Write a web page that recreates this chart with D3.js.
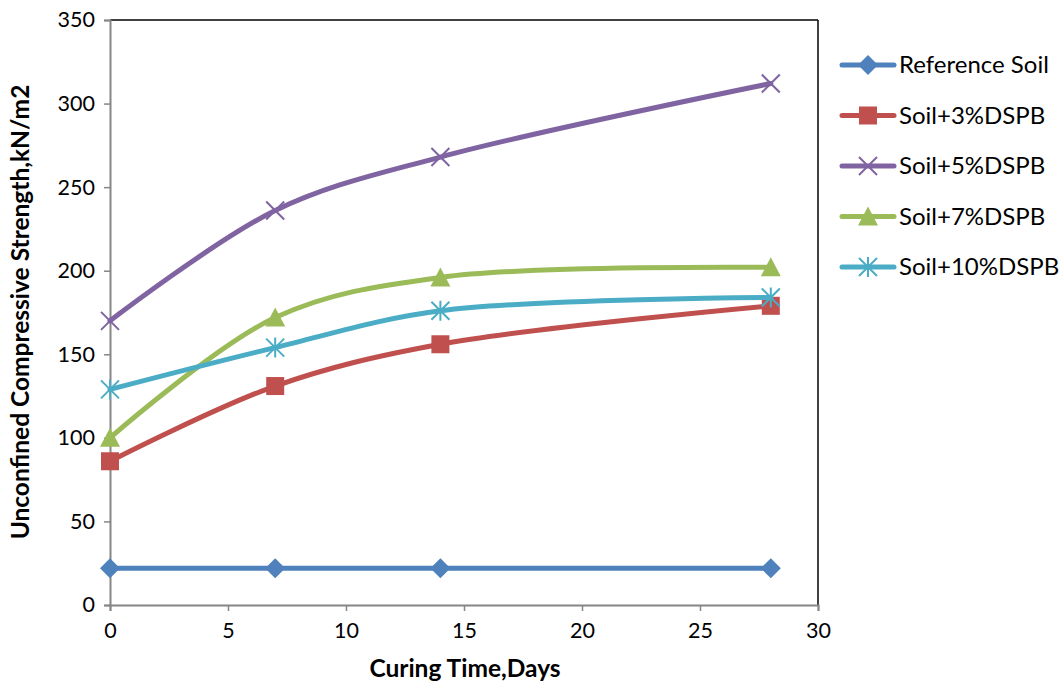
<!DOCTYPE html>
<html><head><meta charset="utf-8">
<script src="https://cdn.jsdelivr.net/npm/d3@7"></script>
<style>body{margin:0;background:#fff;} text{font-family:Lato,"Open Sans",sans-serif;}</style>
</head><body>
<svg id="c" width="1059" height="686"></svg>
<script>
const days = [0, 7, 14, 28];
const seriesNames = ["Reference Soil","Soil+3%DSPB","Soil+5%DSPB","Soil+7%DSPB","Soil+10%DSPB"];
const refSoil = [22, 22, 22, 22];
const soil3 = [86, 131, 156, 179];
const soil5 = [170, 236, 268, 312];
const soil7 = [100, 172, 196, 202];
const soil10 = [129, 154, 176, 184];
const xTicks = [0,5,10,15,20,25,30];
const yTicks = [0,50,100,150,200,250,300,350];
const colors = ["#4F81BD","#C0504D","#8064A2","#9BBB59","#4BACC6"];
const markers = ["diamond","square","cross","triangle","star"];
const allSeries = [refSoil, soil3, soil5, soil7, soil10];

const svg = d3.select("#c");
const L=110,R=818,T=20,B=605;
const x = d3.scaleLinear().domain([0,30]).range([L,R]);
const y = d3.scaleLinear().domain([0,350]).range([B,T]);

svg.append("line").attr("x1",L).attr("x2",R).attr("y1",T).attr("y2",T).attr("stroke","#000").attr("stroke-width",1.5);
svg.append("line").attr("x1",R).attr("x2",R).attr("y1",T).attr("y2",B).attr("stroke","#000").attr("stroke-width",1.5);

const yAxis = svg.append("g").attr("transform",`translate(${L},0)`)
  .call(d3.axisLeft(y).tickValues(yTicks).tickSize(6).tickPadding(9).tickFormat(d3.format("d")));
const xAxis = svg.append("g").attr("transform",`translate(0,${B})`)
  .call(d3.axisBottom(x).tickValues(xTicks).tickSize(6).tickPadding(12).tickFormat(d3.format("d")));
[yAxis,xAxis].forEach(a=>{
  a.select(".domain").attr("stroke","#868686").attr("stroke-width",2);
  a.selectAll(".tick line").attr("stroke","#868686").attr("stroke-width",1.5);
  a.selectAll(".tick text").attr("font-size",21.5).attr("fill","#000").attr("font-family","Lato, 'Open Sans', sans-serif");
});

function drawMarker(g, type, cx, cy, color){
  if(type==="diamond"){
    g.append("path").attr("d",`M${cx},${cy-10}L${cx+10},${cy}L${cx},${cy+10}L${cx-10},${cy}Z`).attr("fill",color);
  } else if(type==="square"){
    g.append("rect").attr("x",cx-9).attr("y",cy-9).attr("width",18).attr("height",18).attr("fill",color);
  } else if(type==="triangle"){
    g.append("path").attr("d",`M${cx},${cy-10}L${cx+10},${cy+9}L${cx-10},${cy+9}Z`).attr("fill",color);
  } else if(type==="cross"){
    g.append("path").attr("d",`M${cx-9},${cy-9}L${cx+9},${cy+9}M${cx-9},${cy+9}L${cx+9},${cy-9}`).attr("stroke",color).attr("stroke-width",2);
  } else if(type==="star"){
    g.append("path").attr("d",`M${cx-9},${cy-9}L${cx+9},${cy+9}M${cx-9},${cy+9}L${cx+9},${cy-9}M${cx},${cy-10}L${cx},${cy+10}`).attr("stroke",color).attr("stroke-width",2);
  }
}

const line = d3.line().x((d,i)=>x(days[i])).y(d=>y(d)).curve(d3.curveCatmullRom.alpha(0.5));
allSeries.forEach((vals,si)=>{
  const g = svg.append("g");
  g.append("path").attr("d",line(vals)).attr("fill","none").attr("stroke",colors[si]).attr("stroke-width",5).attr("stroke-linecap","round");
  vals.forEach((v,i)=>drawMarker(g, markers[si], x(days[i]), y(v), colors[si]));
});

const legY = [65,115.5,166,216.5,267];
seriesNames.forEach((n,i)=>{
  const g = svg.append("g");
  g.append("line").attr("x1",842).attr("x2",894).attr("y1",legY[i]).attr("y2",legY[i]).attr("stroke",colors[i]).attr("stroke-width",5).attr("stroke-linecap","round");
  drawMarker(g, markers[i], 868, legY[i], colors[i]);
  g.append("text").attr("x",899).attr("y",legY[i]).attr("dy","0.35em").attr("font-size",24).text(n);
});

svg.append("text").attr("x",465).attr("y",677).attr("text-anchor","middle").attr("font-size",24.5).attr("font-weight","bold").text("Curing Time,Days");
svg.append("text").attr("transform","translate(29,312) rotate(-90)").attr("text-anchor","middle").attr("font-size",24.5).attr("font-weight","bold").text("Unconfined Compressive Strength,kN/m2");
</script>
</body></html>
